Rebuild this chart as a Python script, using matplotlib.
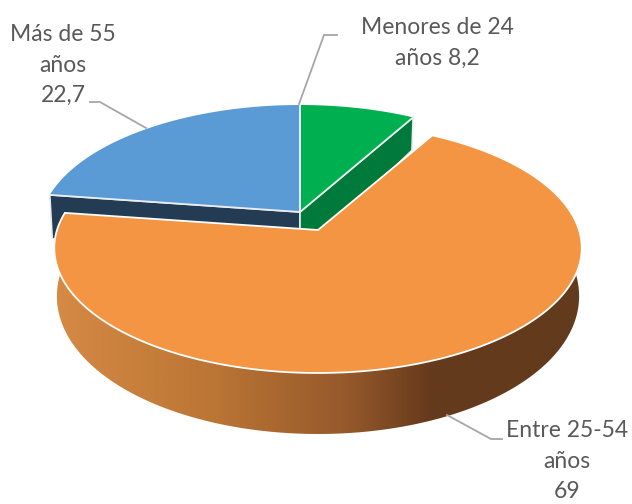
import matplotlib
matplotlib.use('Agg')
import matplotlib.pyplot as plt
from matplotlib.patches import Polygon
from matplotlib.colors import LinearSegmentedColormap
import numpy as np

plt.rcParams['font.family'] = ['Lato', 'DejaVu Sans']

categories = ['Menores de 24\naños', 'Entre 25-54\naños', 'Más de 55\naños']
values = [8.2, 69, 22.7]
separators = [' ', '\n', '\n']
top_colors = ['#00b050', '#f49544', '#5b9bd5']
cut_colors = ['#007a3a', '#a8622c', '#243c53']
label_pos = [(437, 43), (567, 461), (63, 65)]
leaders = [[(299, 104), (324, 35), (337, 35)],
           [(447, 415), (491, 439), (502, 439)],
           [(146, 128), (100, 102), (90, 102)]]

# perspective of the pie top, pixels
CX, CY = 300, 212
WIDTHS = [258, 261, 258]
B, K = 122.4, 0.144
EXPLODE = [(0, 0), (18, 18), (0, 0)]
EDGE = '#e8edf0'


def top_point(theta, off, a):
    # theta clockwise from 12 o'clock
    u, v = np.sin(theta), np.cos(theta)
    w = 1 + K * v
    return CX + off[0] + a * u / w, CY + off[1] - B * v / w


def bottom_point(theta, off, a):
    x, y = top_point(theta, off, a)
    v = np.cos(theta)
    cx = CX + off[0]
    return cx + (x - cx) * 0.99, y + 46 - 15 * v


fig = plt.figure(figsize=(6.32, 5.04), dpi=100)
ax = fig.add_axes([0, 0, 1, 1])

edges = np.cumsum([0] + values) / sum(values) * 2 * np.pi

for i in [2, 0, 1]:
    off = EXPLODE[i]
    a = WIDTHS[i]
    t0, t1 = edges[i], edges[i + 1]
    ts = np.linspace(t0, t1, 200)
    apex = (CX + off[0], CY + off[1])
    x, y = top_point(ts, off, a)
    pts = np.r_[[apex], np.c_[x, y]]

    if i == 1:
        # outer wall of the big slice, shaded left to right
        xb, yb = bottom_point(ts, off, a)
        wall = Polygon(np.r_[np.c_[x, y], np.c_[xb, yb][::-1]], closed=True,
                       fc='none', ec='none')
        ax.add_patch(wall)
        cmap = LinearSegmentedColormap.from_list(
            'wall', [(0, '#d58a45'), (0.3, '#bb7534'), (0.55, '#96592b'),
                     (0.71, '#653a1c'), (1, '#623a1c')])
        grad = np.linspace(0, 1, 400).reshape(1, -1)
        im = ax.imshow(grad, cmap=cmap, aspect='auto', extent=(55, 585, 440, 200),
                       zorder=3)
        im.set_clip_path(wall)
        ax.add_patch(Polygon(pts, closed=True, fc=top_colors[i], ec='white',
                             lw=1.3, joinstyle='miter', zorder=4))
    else:
        # cut face, seen on the side facing the gap
        t_cut = t1 if i == 0 else t0
        xe, ye = top_point(t_cut, off, a)
        xl, yl = bottom_point(t_cut, off, a)
        ax.add_patch(Polygon([apex, (xe, ye), (xl, yl), (apex[0], apex[1] + 46)],
                             closed=True, fc=cut_colors[i], ec=EDGE, lw=1.2, zorder=2))
        ax.add_patch(Polygon(pts, closed=True, fc=top_colors[i], ec='none', zorder=2.5))
        ax.plot([x[0], apex[0], x[-1]], [y[0], apex[1], y[-1]], color=EDGE, lw=1.3,
                solid_joinstyle='miter', zorder=2.6)

for line in leaders:
    xs, ys = zip(*line)
    ax.plot(xs, ys, color='#a6a6a6', lw=1.3, solid_joinstyle='miter', zorder=5)

for cat, val, sep, pos in zip(categories, values, separators, label_pos):
    txt = cat + sep + str(val).replace('.', ',')
    ax.text(pos[0], pos[1], txt, ha='center', va='center', color='#595959',
            fontsize=16.5, linespacing=1.56, zorder=6)

ax.set_xlim(0, 632)
ax.set_ylim(504, 0)
ax.axis('off')
fig.savefig('out.png', dpi=100, facecolor='white')
